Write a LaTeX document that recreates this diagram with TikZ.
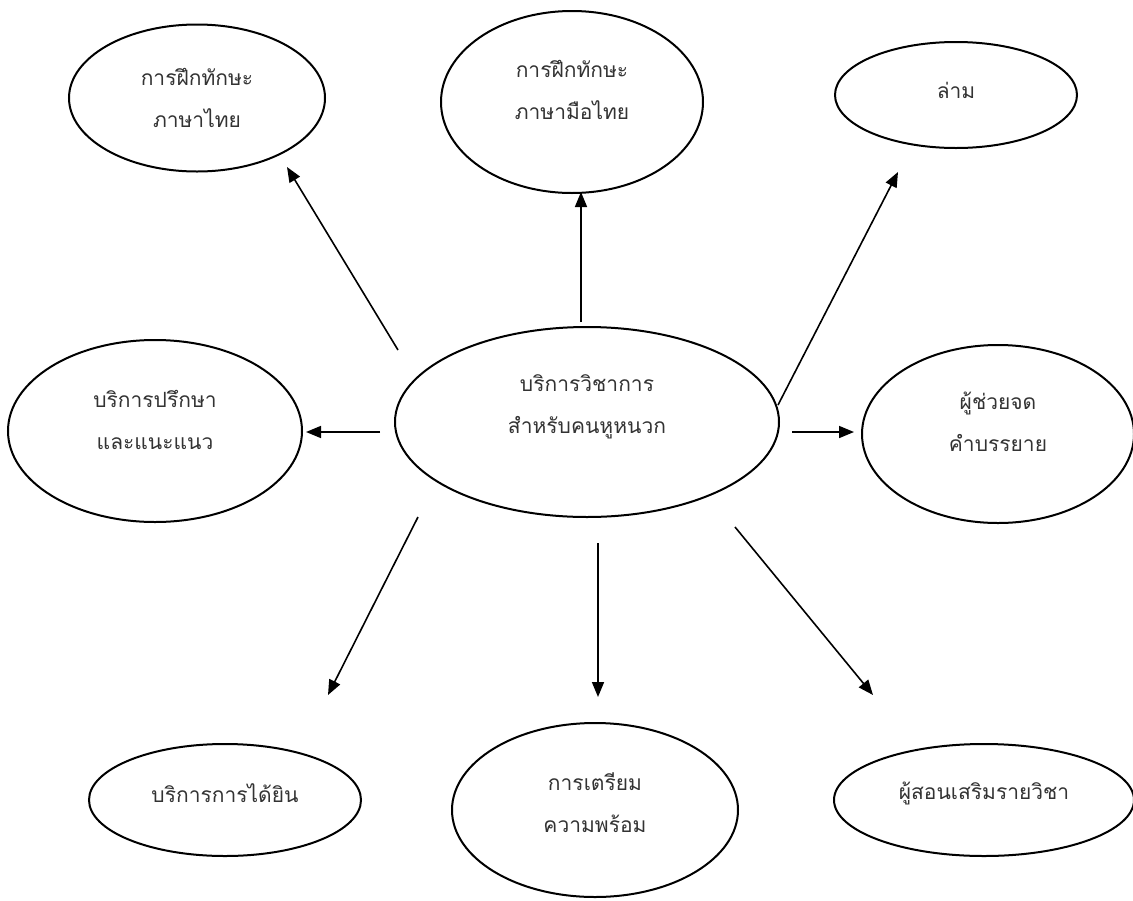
\documentclass[tikz,border=0pt]{standalone}
\usepackage{fontspec}
\newfontfamily\thaifont[Script=Thai]{Loma}
\usetikzlibrary{shapes.geometric,arrows.meta}
\begin{document}
\begin{tikzpicture}[x=1pt,y=-1pt,
  ell/.style={draw=black,line width=2pt,ellipse,inner sep=0pt},
  txt/.style={font=\thaifont\fontsize{21}{42}\selectfont,align=center,text=black!80,inner sep=0pt},
  arr/.style={draw=black,line width=1.6pt,-{Triangle[length=15pt,width=12pt]}}]
\useasboundingbox (0,0) rectangle (1133,900);
% ellipses
\node[ell,minimum width=256pt,minimum height=147pt] (tl) at (197,98) {};
\node[ell,minimum width=262pt,minimum height=182pt] (tm) at (572,102) {};
\node[ell,minimum width=242pt,minimum height=106pt] (tr) at (956,95) {};
\node[ell,minimum width=384pt,minimum height=190pt] (c) at (587,422) {};
\node[ell,minimum width=294pt,minimum height=182pt] (l) at (155,431) {};
\node[ell,minimum width=272pt,minimum height=178pt] (r) at (998,434) {};
\node[ell,minimum width=272pt,minimum height=112pt] (bl) at (225,800) {};
\node[ell,minimum width=286pt,minimum height=174pt] (bm) at (595,810) {};
\node[ell,minimum width=300pt,minimum height=112pt] (br) at (984,800) {};
% texts
\node[txt] (tlt) at ([yshift=0pt]tl.center) {การฝึกทักษะ\\ภาษาไทย};
\node[txt] (tmt) at ([yshift=12pt]tm.center) {การฝึกทักษะ\\ภาษามือไทย};
\node[txt] (trt) at ([yshift=5pt]tr.center) {ล่าม};
\node[txt] (ct) at ([yshift=15pt]c.center) {บริการวิชาการ\\สำหรับคนหูหนวก};
\node[txt] (lt) at ([yshift=11pt]l.center) {บริการปรึกษา\\และแนะแนว};
\node[txt] (rt) at ([yshift=12pt]r.center) {ผู้ช่วยจด\\คำบรรยาย};
\node[txt] (blt) at ([yshift=7pt]bl.center) {บริการการได้ยิน};
\node[txt] (bmt) at ([yshift=7pt]bm.center) {การเตรียม\\ความพร้อม};
\node[txt] (brt) at ([yshift=7pt]br.center) {ผู้สอนเสริมรายวิชา};
% arrow end points
\coordinate (s1) at (398,350); \coordinate (e1) at (287,167);
\coordinate (s2) at (581,322); \coordinate (e2) at (581,192);
\coordinate (s3) at (778,405); \coordinate (e3) at (898,172);
\coordinate (s4) at (380,432); \coordinate (e4) at (306,432);
\coordinate (s5) at (792,432); \coordinate (e5) at (854,432);
\coordinate (s6) at (418,517); \coordinate (e6) at (328,695);
\coordinate (s7) at (598,543); \coordinate (e7) at (598,697);
\coordinate (s8) at (735,527); \coordinate (e8) at (873,695);
\draw[arr] (s1) -- (e1);
\draw[arr] (s2) -- (e2);
\draw[arr] (s3) -- (e3);
\draw[arr] (s4) -- (e4);
\draw[arr] (s5) -- (e5);
\draw[arr] (s6) -- (e6);
\draw[arr] (s7) -- (e7);
\draw[arr] (s8) -- (e8);
\end{tikzpicture}
\end{document}
